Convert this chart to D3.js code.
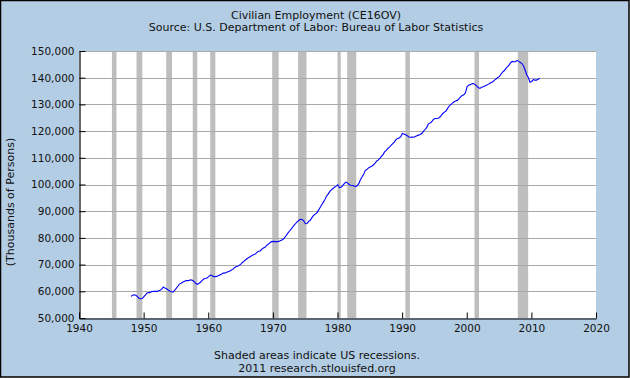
<!DOCTYPE html>
<html>
<head>
<meta charset="utf-8">
<script src="https://cdn.jsdelivr.net/npm/d3@7"></script>
<style>
html,body{margin:0;padding:0;background:#fff;}
svg{display:block;}
text{font-family:"DejaVu Sans",Verdana,sans-serif;fill:#111;}
</style>
</head>
<body>
<svg id="chart" width="630" height="378"></svg>
<script>
// Title texts
const titleText = "Civilian Employment (CE16OV)";
const subtitleText = "Source: U.S. Department of Labor: Bureau of Labor Statistics";
const yAxisTitle = "(Thousands of Persons)";
const footnote1 = "Shaded areas indicate US recessions.";
const footnote2 = "2011 research.stlouisfed.org";

// Tick values
const xTicks = [1940, 1950, 1960, 1970, 1980, 1990, 2000, 2010, 2020];
const yTicks = [50000, 60000, 70000, 80000, 90000, 100000, 110000, 120000, 130000, 140000, 150000];

// Recession periods [start, end] in decimal years
const recessions = [
  [1945.1, 1945.8], [1948.9, 1949.8], [1953.5, 1954.4], [1957.6, 1958.3],
  [1960.3, 1961.1], [1969.9, 1970.9], [1973.9, 1975.2], [1980.0, 1980.5],
  [1981.5, 1982.9], [1990.5, 1991.2], [2001.2, 2001.9], [2007.9, 2009.5]
];

// Quarterly civilian employment, thousands of persons, starting 1948 Q1
const startYear = 1948;
const employment = [
  58100, 58500, 58700, 58500,   // 1948
  58000, 57400, 57200, 57300,   // 1949
  58000, 58700, 59400, 59500,   // 1950
  59600, 60000, 59900, 60100,   // 1951
  59900, 60200, 60400, 60700,   // 1952
  61600, 61200, 61000, 60500,   // 1953
  60100, 59800, 59700, 60300,   // 1954
  61100, 61900, 62700, 63000,   // 1955
  63400, 63700, 64000, 64000,   // 1956
  64100, 64300, 64100, 63700,   // 1957
  63000, 62600, 62900, 63400,   // 1958
  64000, 64600, 64800, 65000,   // 1959
  65400, 66100, 65900, 65600,   // 1960
  65500, 65600, 65800, 66100,   // 1961
  66400, 66800, 66800, 67000,   // 1962
  67300, 67500, 67900, 68200,   // 1963
  68800, 69200, 69400, 69700,   // 1964
  70200, 70800, 71300, 71800,   // 1965
  72300, 72700, 73000, 73500,   // 1966
  73700, 74000, 74600, 75000,   // 1967
  75100, 75800, 76200, 76500,   // 1968
  77200, 77600, 78200, 78600,   // 1969
  78700, 78600, 78600, 78600,   // 1970
  78800, 79100, 79400, 80000,   // 1971
  80800, 81700, 82500, 83200,   // 1972
  84000, 84800, 85400, 86100,   // 1973
  86600, 87000, 86900, 86300,   // 1974
  85300, 85400, 86200, 86600,   // 1975
  87600, 88400, 88900, 89300,   // 1976
  90300, 91300, 92300, 93300,   // 1977
  94300, 95600, 96400, 97300,   // 1978
  98000, 98500, 99000, 99400,   // 1979
  99900, 98800, 99000, 99500,   // 1980
  100300, 100900, 100600, 100000, // 1981
  99700, 99600, 99500, 99200,   // 1982
  99500, 100300, 101800, 102800, // 1983
  103800, 105200, 105600, 106200, // 1984
  106600, 106800, 107300, 107900, // 1985
  108700, 109100, 109800, 110500, // 1986
  111200, 112200, 112800, 113500, // 1987
  114000, 114700, 115300, 115900, // 1988
  116800, 117200, 117400, 117900, // 1989
  119100, 118900, 118600, 118300, // 1990
  117800, 117700, 117800, 117700, // 1991
  118000, 118300, 118500, 118700, // 1992
  119100, 119900, 120600, 121300, // 1993
  122600, 123000, 123400, 124200, // 1994
  124700, 124700, 124800, 125100, // 1995
  125800, 126600, 127100, 127500, // 1996
  128500, 129400, 129900, 130500, // 1997
  131000, 131300, 131500, 132100, // 1998
  132800, 133300, 133600, 134300, // 1999
  136600, 137200, 137400, 137700, // 2000
  137800, 137400, 136900, 136300, // 2001
  136000, 136400, 136600, 136900, // 2002
  137200, 137500, 137800, 138200, // 2003
  138500, 139100, 139500, 140100, // 2004
  140400, 141300, 142100, 142600, // 2005
  143400, 144100, 144700, 145600, // 2006
  146100, 146000, 146000, 146500, // 2007
  146100, 145700, 145300, 144400, // 2008
  142800, 141000, 140000, 138300, // 2009
  138600, 139300, 139100, 139100, // 2010
  139400, 139800                 // 2011
];

const W = 630, H = 378;
const margin = {left: 79, right: 34, top: 51, bottom: 60};
const svg = d3.select("#chart");

// background + border
svg.append("rect").attr("x", 0.5).attr("y", 0.5).attr("width", W - 1.5).attr("height", H - 1.5)
  .attr("fill", "#b3cde4").attr("stroke", "#000").attr("stroke-width", 1.5);

const x = d3.scaleLinear().domain([1940, 2020]).range([margin.left, W - margin.right]);
const y = d3.scaleLinear().domain([50000, 150000]).range([H - margin.bottom, margin.top]);

// plot area
svg.append("rect").attr("x", x(1940)).attr("y", y(150000))
  .attr("width", x(2020) - x(1940)).attr("height", y(50000) - y(150000)).attr("fill", "#fff");

// recession bars
svg.append("g").selectAll("rect").data(recessions).join("rect")
  .attr("x", d => x(d[0])).attr("y", y(150000))
  .attr("width", d => x(d[1]) - x(d[0])).attr("height", y(50000) - y(150000))
  .attr("fill", "#bebebe");

// horizontal gridlines
svg.append("g").selectAll("line").data(yTicks.filter(v => v > 50000)).join("line")
  .attr("x1", x(1940)).attr("x2", x(2020))
  .attr("y1", d => Math.round(y(d)) + 0.5).attr("y2", d => Math.round(y(d)) + 0.5)
  .attr("stroke", "#a9a9a9").attr("stroke-width", 1);

// line
const data = employment.map((v, i) => ({t: startYear + i / 4 + 0.04, v}));
svg.append("path").datum(data)
  .attr("fill", "none").attr("stroke", "#0000ff").attr("stroke-width", 1.1)
  .attr("d", d3.line().x(d => x(d.t)).y(d => y(d.v)));

// axes
const yAxis = d3.axisLeft(y).tickValues(yTicks).tickFormat(d3.format(",")).tickSizeInner(-6).tickSizeOuter(0).tickPadding(5);
const gy = svg.append("g").attr("transform", `translate(${Math.round(x(1940)) + 0.5},0)`).call(yAxis);
const xAxis = d3.axisBottom(x).tickValues(xTicks).tickFormat(d3.format("d")).tickSizeInner(-6).tickSizeOuter(0).tickPadding(5);
const gx = svg.append("g").attr("transform", `translate(0,${Math.round(y(50000)) + 0.5})`).call(xAxis);
[gx, gy].forEach(g => {
  g.select(".domain").attr("stroke", "#000").attr("stroke-width", 1.2);
  g.selectAll(".tick line").attr("stroke", "#000");
  g.selectAll(".tick text").attr("font-size", "10.5px").attr("fill", "#111")
    .attr("font-family", "DejaVu Sans, Verdana, sans-serif");
});
gx.selectAll(".tick text").attr("dy", "0.85em");

// titles
svg.append("text").attr("x", 316).attr("y", 19).attr("text-anchor", "middle")
  .attr("font-size", "11px").text(titleText);
svg.append("text").attr("x", 316).attr("y", 30.5).attr("text-anchor", "middle")
  .attr("font-size", "11px").text(subtitleText);
svg.append("text").attr("transform", "translate(14,202) rotate(-90)").attr("text-anchor", "middle")
  .attr("font-size", "11px").text(yAxisTitle);
svg.append("text").attr("x", 317).attr("y", 359).attr("text-anchor", "middle")
  .attr("font-size", "11px").text(footnote1);
svg.append("text").attr("x", 317).attr("y", 372).attr("text-anchor", "middle")
  .attr("font-size", "11px").text(footnote2);
</script>
</body>
</html>
